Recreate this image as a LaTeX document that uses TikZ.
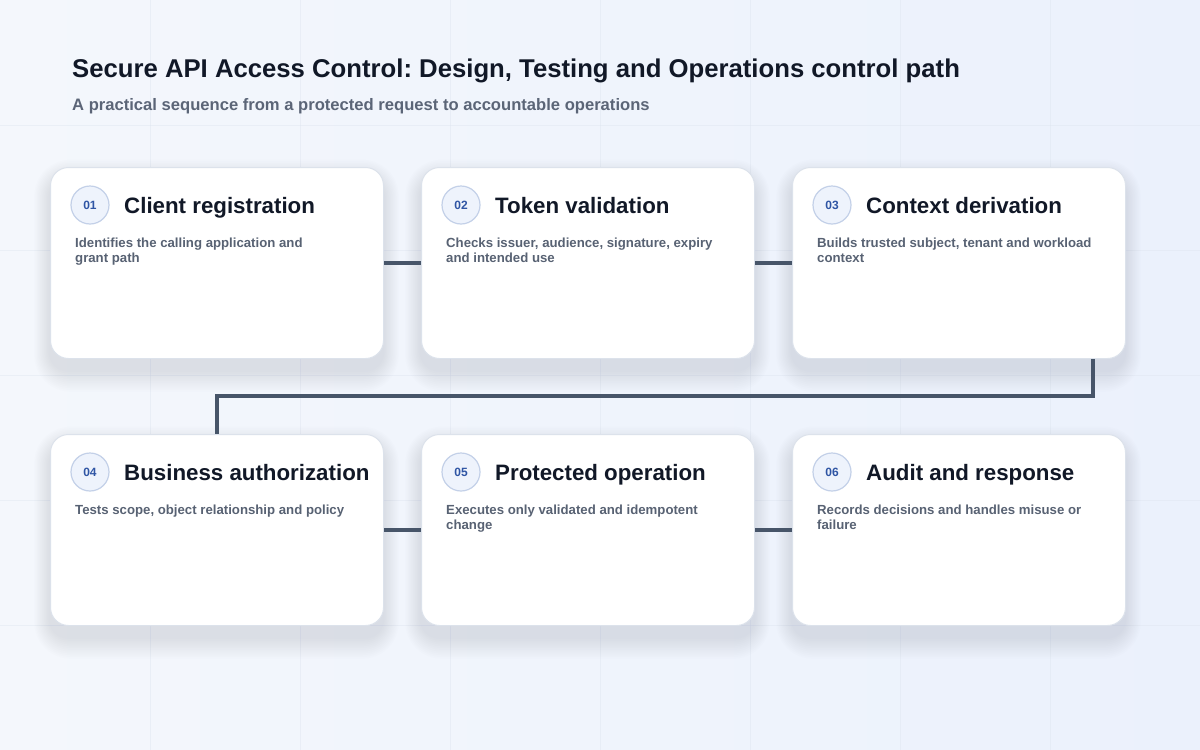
\documentclass[tikz,border=0pt]{standalone}
\usepackage{fontspec}
\setmainfont{Liberation Sans}
\usetikzlibrary{calc}
\frenchspacing
\definecolor{bgA}{HTML}{F4F7FC}
\definecolor{bgB}{HTML}{EBF1FC}
\definecolor{gridc}{HTML}{DCE3EE}
\definecolor{titlec}{HTML}{111827}
\definecolor{subc}{HTML}{5B6577}
\definecolor{descc}{HTML}{586273}
\definecolor{cardborder}{HTML}{DCE2EB}
\definecolor{shadowc}{HTML}{7F8CA8}
\definecolor{badgefill}{HTML}{EEF3FC}
\definecolor{badgeborder}{HTML}{C3D0E8}
\definecolor{badgetext}{HTML}{2F55A4}
\definecolor{connc}{HTML}{475569}
\tikzset{
  card/.style={draw=cardborder, line width=1pt, fill=white, rounded corners=18pt,
    minimum width=333pt, minimum height=191pt, inner sep=0pt},
  badge/.style={circle, draw=badgeborder, line width=1.2pt, fill=badgefill,
    minimum size=38pt, inner sep=0pt, text=badgetext,
    font=\fontsize{12}{14}\selectfont\bfseries},
  ctitle/.style={inner sep=0pt, text=titlec, font=\fontsize{22.3}{26}\selectfont\bfseries},
  cdesc/.style={inner sep=0pt, text=descc, font=\fontsize{13.2}{15}\selectfont\bfseries},
  conn/.style={draw=connc, line width=4pt},
}
\newcommand\apicard[6]{%
  \foreach \s in {1,...,12} {
    \fill[shadowc, opacity=0.016, rounded corners=18+\s*1.5]
      (#2-\s*1.3, #3+12-\s*1.6) rectangle ++(333+\s*2.6, 191+\s*3.4);
  }
  \node[card, anchor=north west] (#1) at (#2,#3) {};
  \node[badge] (#1b) at ($(#1.north west)+(40,38)$) {#4};
  \node[ctitle, anchor=base west] (#1t) at ($(#1.north west)+(74,46)$) {#5};
  \node[cdesc, anchor=base west] (#1d) at ($(#1.north west)+(25,80)$)
    {\begin{tabular}[t]{@{}l@{}}#6\end{tabular}};
}
\begin{document}
\begin{tikzpicture}[x=1pt,y=-1pt]
\useasboundingbox (0,0) rectangle (1200,750);
\shade[shading angle=135, left color=bgA, right color=bgB] (0,0) rectangle (1200,750);
\foreach \gx in {150,300,...,1050} { \draw[gridc, line width=0.8pt, opacity=0.4] (\gx,0) -- (\gx,750); }
\foreach \gy in {125,250,...,625} { \draw[gridc, line width=0.8pt, opacity=0.4] (0,\gy) -- (1200,\gy); }

\node[anchor=base west, inner sep=0pt, text=titlec, font=\fontsize{25.7}{30}\selectfont\bfseries] (title) at (72,77)
  {Secure API Access Control: Design, Testing and Operations control path};
\node[anchor=base west, inner sep=0pt, text=subc, font=\fontsize{16.6}{20}\selectfont\bfseries] (subtitle) at (72,110)
  {A practical sequence from a protected request to accountable operations};

\apicard{c1}{50}{167}{01}{Client registration}{Identifies the calling application and\\grant path}
\apicard{c2}{421}{167}{02}{Token validation}{Checks issuer, audience, signature, expiry\\and intended use}
\apicard{c3}{792}{167}{03}{Context derivation}{Builds trusted subject, tenant and workload\\context}
\apicard{c4}{50}{434}{04}{Business authorization}{Tests scope, object relationship and policy}
\apicard{c5}{421}{434}{05}{Protected operation}{Executes only validated and idempotent\\change}
\apicard{c6}{792}{434}{06}{Audit and response}{Records decisions and handles misuse or\\failure}

\draw[conn] (c1.east) -- (c2.west);
\draw[conn] (c2.east) -- (c3.west);
\draw[conn] ($(c3.south east)+(-33,0)$) -- ++(0,37) -| (c4.north);
\draw[conn] (c4.east) -- (c5.west);
\draw[conn] (c5.east) -- (c6.west);
\end{tikzpicture}
\end{document}
